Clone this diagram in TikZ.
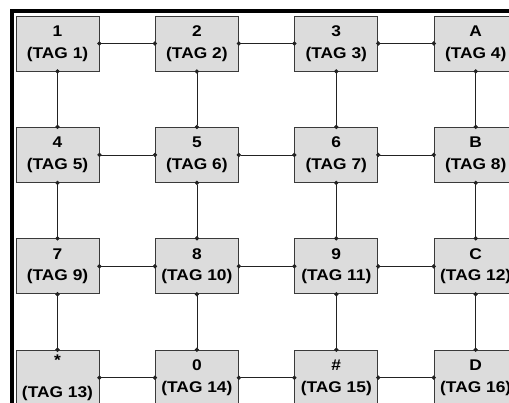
\documentclass[tikz,border=0pt]{standalone}
\usepackage{fontspec}
\usepackage{xcolor}
\usepackage{tikz}
\usetikzlibrary{arrows.meta,positioning}
\newfontfamily\keyfont[FakeStretch=1.12]{Liberation Sans}
\definecolor{keyfill}{HTML}{DCDCDC}
\definecolor{keyedge}{HTML}{3A3A3A}
\definecolor{wire}{HTML}{222222}

\begin{document}
\begin{tikzpicture}[
  node distance=55.5pt,
  key/.style={draw=keyedge, line width=0.9pt, fill=keyfill, align=center,
              minimum width=83pt, minimum height=55pt, inner sep=0pt,
              font=\keyfont\bfseries\fontsize{15.5}{21.7}\selectfont},
  link/.style={draw=wire, line width=0.75pt,
               {Circle[length=4.2pt]}-{Circle[length=4.2pt]},
               shorten <=-2.1pt, shorten >=-2.1pt}
]
\clip (-57.5pt,43.5pt) rectangle (451.5pt,-359.5pt);
% outer frame, only its top and left sides are in view
\draw[line width=3.8pt] (-45.5pt,-420pt) |- (480pt,32.5pt);
% keypad rows
\node[key] (k1) at (0,0) {1\\(TAG 1)};
\node[key, right=of k1] (k2) {2\\(TAG 2)};
\node[key, right=of k2] (k3) {3\\(TAG 3)};
\node[key, right=of k3] (kA) {A\\(TAG 4)};
\node[key, below=of k1] (k4) {4\\(TAG 5)};
\node[key, right=of k4] (k5) {5\\(TAG 6)};
\node[key, right=of k5] (k6) {6\\(TAG 7)};
\node[key, right=of k6] (kB) {B\\(TAG 8)};
\node[key, below=of k4] (k7) {7\\(TAG 9)};
\node[key, right=of k7] (k8) {8\\(TAG 10)};
\node[key, right=of k8] (k9) {9\\(TAG 11)};
\node[key, right=of k9] (kC) {C\\(TAG 12)};
\node[key, below=of k7] (kstar) {*\\[11pt](TAG 13)};
\node[key, right=of kstar] (k0) {0\\(TAG 14)};
\node[key, right=of k0] (khash) {\#\\(TAG 15)};
\node[key, right=of khash] (kD) {D\\(TAG 16)};
% row wires
\draw[link] (k1) -- (k2);
\draw[link] (k2) -- (k3);
\draw[link] (k3) -- (kA);
\draw[link] (k4) -- (k5);
\draw[link] (k5) -- (k6);
\draw[link] (k6) -- (kB);
\draw[link] (k7) -- (k8);
\draw[link] (k8) -- (k9);
\draw[link] (k9) -- (kC);
\draw[link] (kstar) -- (k0);
\draw[link] (k0) -- (khash);
\draw[link] (khash) -- (kD);
% column wires
\draw[link] (k1) -- (k4);
\draw[link] (k4) -- (k7);
\draw[link] (k7) -- (kstar);
\draw[link] (k2) -- (k5);
\draw[link] (k5) -- (k8);
\draw[link] (k8) -- (k0);
\draw[link] (k3) -- (k6);
\draw[link] (k6) -- (k9);
\draw[link] (k9) -- (khash);
\draw[link] (kA) -- (kB);
\draw[link] (kB) -- (kC);
\draw[link] (kC) -- (kD);
\end{tikzpicture}
\end{document}
